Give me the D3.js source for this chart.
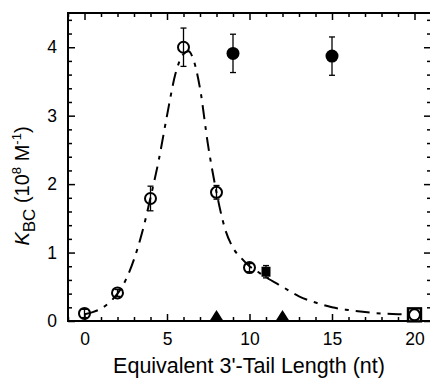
<!DOCTYPE html>
<html>
<head>
<meta charset="utf-8">
<script src="https://cdn.jsdelivr.net/npm/d3@7"></script>
<style>
  body { margin: 0; background: #fff; }
  svg { font-family: "Liberation Sans", Arial, sans-serif; }
</style>
</head>
<body>
<svg id="chart" width="430" height="383"></svg>
<script>
// open circles (fitted series)
const openX = [0, 2, 4, 6, 8, 10, 20];
const openY = [0.11, 0.41, 1.79, 4.0, 1.88, 0.78, 0.09];
const openErr = [0.06, 0.05, 0.18, 0.28, 0.1, 0.06, 0];

// filled circles
const fillX = [9, 15];
const fillY = [3.91, 3.87];
const fillErr = [0.28, 0.28];

// filled square, open square, triangles
const sqX = [11];
const sqY = [0.72];
const sqErr = [0.09];
const openSqX = [20];
const openSqY = [0.09];
const triX = [8, 12];
const triY = [0.03, 0.03];

// dashed fit curve
const curveX = [0, 0.5, 1, 1.5, 2, 2.5, 3, 3.5, 4, 4.5, 5, 5.5, 6, 6.3, 6.6, 7, 7.5, 8, 8.5, 9, 9.5, 10, 10.5, 11, 12, 13, 14, 15, 16, 17, 18, 19, 20];
const curveY = [0.1, 0.13, 0.18, 0.27, 0.4, 0.6, 0.9, 1.3, 1.8, 2.35, 3.0, 3.6, 3.9, 3.94, 3.82, 3.4, 2.55, 1.88, 1.36, 1.07, 0.92, 0.8, 0.72, 0.64, 0.5, 0.36, 0.27, 0.2, 0.16, 0.13, 0.11, 0.1, 0.09];

const xTicks = [0, 5, 10, 15, 20];
const yTicks = [0, 1, 2, 3, 4];

const svg = d3.select('#chart');
const mLeft = 68, mRight = 431, mTop = 13, mBottom = 321;

const x = d3.scaleLinear().domain([-1, 21]).range([mLeft, mRight]);
const y = d3.scaleLinear().domain([0, 4.5]).range([mBottom, mTop]);

const xMinor = d3.range(-1, 22, 1).filter(d => xTicks.indexOf(d) < 0);
const yMinor = d3.range(0, 4.51, 0.2).map(d => +d.toFixed(1)).filter(d => yTicks.indexOf(d) < 0);

function styleAxis(g) {
  g.select('.domain').remove();
  g.selectAll('line').attr('stroke', '#000').attr('stroke-width', 1.5);
  g.selectAll('text').attr('font-size', 17.5).attr('fill', '#000');
}

// bottom
svg.append('g').attr('transform', 'translate(0,' + mBottom + ')')
  .call(d3.axisBottom(x).tickValues(xTicks).tickSize(-7).tickPadding(12).tickFormat(d3.format('d')))
  .call(styleAxis);
svg.append('g').attr('transform', 'translate(0,' + mBottom + ')')
  .call(d3.axisBottom(x).tickValues(xMinor).tickSize(-4).tickFormat(''))
  .call(styleAxis);
// top
svg.append('g').attr('transform', 'translate(0,' + mTop + ')')
  .call(d3.axisTop(x).tickValues(xTicks).tickSize(-7).tickFormat(''))
  .call(styleAxis);
svg.append('g').attr('transform', 'translate(0,' + mTop + ')')
  .call(d3.axisTop(x).tickValues(xMinor).tickSize(-4).tickFormat(''))
  .call(styleAxis);
// left
svg.append('g').attr('transform', 'translate(' + mLeft + ',0)')
  .call(d3.axisLeft(y).tickValues(yTicks).tickSize(-7).tickPadding(11).tickFormat(d3.format('d')))
  .call(styleAxis);
svg.append('g').attr('transform', 'translate(' + mLeft + ',0)')
  .call(d3.axisLeft(y).tickValues(yMinor).tickSize(-4).tickFormat(''))
  .call(styleAxis);
// right
svg.append('g').attr('transform', 'translate(' + mRight + ',0)')
  .call(d3.axisRight(y).tickValues(yTicks).tickSize(-7).tickFormat(''))
  .call(styleAxis);
svg.append('g').attr('transform', 'translate(' + mRight + ',0)')
  .call(d3.axisRight(y).tickValues(yMinor).tickSize(-4).tickFormat(''))
  .call(styleAxis);

svg.append('rect')
  .attr('x', mLeft).attr('y', mTop)
  .attr('width', mRight - mLeft).attr('height', mBottom - mTop)
  .attr('fill', 'none').attr('stroke', '#000').attr('stroke-width', 2);

// fit curve
const curve = curveX.map((d, i) => [d, curveY[i]]);
svg.append('path')
  .datum(curve)
  .attr('d', d3.line().x(d => x(d[0])).y(d => y(d[1])).curve(d3.curveMonotoneX))
  .attr('fill', 'none')
  .attr('stroke', '#000')
  .attr('stroke-width', 2)
  .attr('stroke-dasharray', '14,7,4,7');

function errorBars(xs, ys, es) {
  const g = svg.append('g').attr('stroke', '#000').attr('stroke-width', 1.3);
  xs.forEach((d, i) => {
    if (!es[i]) return;
    const cx = x(d), y1 = y(ys[i] + es[i]), y2 = y(ys[i] - es[i]);
    g.append('line').attr('x1', cx).attr('x2', cx).attr('y1', y1).attr('y2', y2);
    g.append('line').attr('x1', cx - 3).attr('x2', cx + 3).attr('y1', y1).attr('y2', y1);
    g.append('line').attr('x1', cx - 3).attr('x2', cx + 3).attr('y1', y2).attr('y2', y2);
  });
}

// open square at 20
svg.selectAll('.osq')
  .data(openSqX)
  .enter().append('rect')
  .attr('x', d => x(d) - 6.5)
  .attr('y', (d, i) => y(openSqY[i]) - 6.5)
  .attr('width', 13).attr('height', 13)
  .attr('fill', '#fff').attr('stroke', '#000').attr('stroke-width', 2.4);

errorBars(openX, openY, openErr);
svg.selectAll('.oc')
  .data(openX)
  .enter().append('circle')
  .attr('cx', d => x(d))
  .attr('cy', (d, i) => y(openY[i]))
  .attr('r', 5.5)
  .attr('fill', 'none').attr('stroke', '#000').attr('stroke-width', 2);

errorBars(fillX, fillY, fillErr);
svg.selectAll('.fc')
  .data(fillX)
  .enter().append('circle')
  .attr('cx', d => x(d))
  .attr('cy', (d, i) => y(fillY[i]))
  .attr('r', 6.5)
  .attr('fill', '#000');

errorBars(sqX, sqY, sqErr);
svg.selectAll('.fsq')
  .data(sqX)
  .enter().append('rect')
  .attr('x', d => x(d) - 4.5)
  .attr('y', (d, i) => y(sqY[i]) - 5)
  .attr('width', 9).attr('height', 10)
  .attr('fill', '#000');

svg.selectAll('.tri')
  .data(triX)
  .enter().append('path')
  .attr('transform', (d, i) => 'translate(' + x(d) + ',' + y(triY[i]) + ')')
  .attr('d', 'M-7,2 L7,2 L0,-9 Z')
  .attr('fill', '#000');

// axis titles
svg.append('text')
  .attr('x', 249)
  .attr('y', 373)
  .attr('text-anchor', 'middle')
  .attr('font-size', 21.5)
  .text("Equivalent 3'-Tail Length (nt)");

const yl = svg.append('text')
  .attr('transform', 'translate(29,186) rotate(-90)')
  .attr('text-anchor', 'middle')
  .attr('font-size', 20);
yl.append('tspan').attr('font-style', 'italic').text('K');
yl.append('tspan').attr('font-size', 17).attr('dy', 6).text('BC');
yl.append('tspan').attr('dy', -6).text(' (10');
yl.append('tspan').attr('font-size', 13).attr('dy', -8).text('8');
yl.append('tspan').attr('dy', 8).text(' M');
yl.append('tspan').attr('font-size', 13).attr('dy', -8).text('-1');
yl.append('tspan').attr('dy', 8).text(')');
</script>
</body>
</html>
